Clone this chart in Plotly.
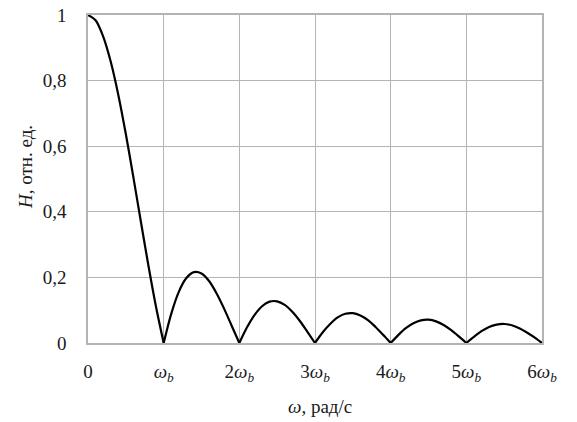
import plotly.graph_objects as go

# Frequency in units of omega_b
omega = [0.0, 0.1, 0.2, 0.3, 0.4, 0.5, 0.6, 0.7, 0.8, 0.9,
         1.0, 1.1, 1.2, 1.3, 1.4, 1.5, 1.6, 1.7, 1.8, 1.9,
         2.0, 2.1, 2.2, 2.3, 2.4, 2.5, 2.6, 2.7, 2.8, 2.9,
         3.0, 3.1, 3.2, 3.3, 3.4, 3.5, 3.6, 3.7, 3.8, 3.9,
         4.0, 4.1, 4.2, 4.3, 4.4, 4.5, 4.6, 4.7, 4.8, 4.9,
         5.0, 5.1, 5.2, 5.3, 5.4, 5.5, 5.6, 5.7, 5.8, 5.9, 6.0]
H = [1.000, 0.984, 0.935, 0.858, 0.757, 0.637, 0.505, 0.368, 0.234, 0.109,
     0.000, 0.089, 0.156, 0.198, 0.216, 0.212, 0.189, 0.151, 0.104, 0.052,
     0.000, 0.047, 0.085, 0.112, 0.126, 0.127, 0.116, 0.095, 0.067, 0.034,
     0.000, 0.032, 0.058, 0.078, 0.089, 0.091, 0.084, 0.070, 0.049, 0.025,
     0.000, 0.024, 0.045, 0.060, 0.069, 0.071, 0.066, 0.055, 0.039, 0.020,
     0.000, 0.019, 0.036, 0.049, 0.056, 0.058, 0.054, 0.045, 0.032, 0.017,
     0.000]

x_tickvals = [0, 1, 2, 3, 4, 5, 6]
x_ticktext = ["0", "<i>ω</i><sub><i>b</i></sub>", "2<i>ω</i><sub><i>b</i></sub>",
              "3<i>ω</i><sub><i>b</i></sub>", "4<i>ω</i><sub><i>b</i></sub>",
              "5<i>ω</i><sub><i>b</i></sub>", "6<i>ω</i><sub><i>b</i></sub>"]
y_tickvals = [0, 0.2, 0.4, 0.6, 0.8, 1.0]
y_ticktext = ["0", "0,2", "0,4", "0,6", "0,8", "1"]

# split the curve into lobes (between zeros) so each lobe is smoothed with sharp cusps
xs, ys = [], []
for i, (xv, yv) in enumerate(zip(omega, H)):
    xs.append(xv)
    ys.append(yv)
    if yv == 0 and 0 < i < len(omega) - 1:
        xs += [None, xv]
        ys += [None, yv]

font = "Times New Roman, Liberation Serif, serif"
grid = "#b4b4b4"

fig = go.Figure()
fig.add_trace(go.Scatter(x=xs, y=ys, mode="lines", connectgaps=False,
                         line=dict(color="black", width=2.2, shape="spline", smoothing=0.8),
                         showlegend=False, hoverinfo="skip"))

fig.update_layout(
    width=577, height=422,
    margin=dict(l=88, r=35, t=15, b=79, autoexpand=False),
    paper_bgcolor="white", plot_bgcolor="white",
    font=dict(family=font, size=19, color="#1a1a1a"),
    xaxis=dict(range=[0, 6], tickvals=x_tickvals, ticktext=x_ticktext,
               showgrid=True, gridcolor=grid, gridwidth=1,
               showline=True, linecolor=grid, linewidth=1.5, mirror=True,
               zeroline=False, ticks="", ticklabelstandoff=10, automargin=False),
    yaxis=dict(range=[0, 1], tickvals=y_tickvals, ticktext=y_ticktext,
               showgrid=True, gridcolor=grid, gridwidth=1,
               showline=True, linecolor=grid, linewidth=1.5, mirror=True,
               zeroline=False, ticks="", ticklabelstandoff=16, automargin=False),
    annotations=[
        dict(text="<i>ω</i>, рад/с", xref="paper", yref="paper",
             x=(320 - 88) / 454, y=-(406 - 343) / 328, xanchor="center", yanchor="middle",
             showarrow=False, font=dict(size=19)),
        dict(text="<i>H</i>, отн. ед.", xref="paper", yref="paper",
             x=-(88 - 25) / 454, y=(343 - 167) / 328, xanchor="center", yanchor="middle",
             textangle=-90, showarrow=False, font=dict(size=19)),
    ],
)

fig.write_html("out.html", config={"displayModeBar": False},
               post_script="document.body.style.margin='0';")
